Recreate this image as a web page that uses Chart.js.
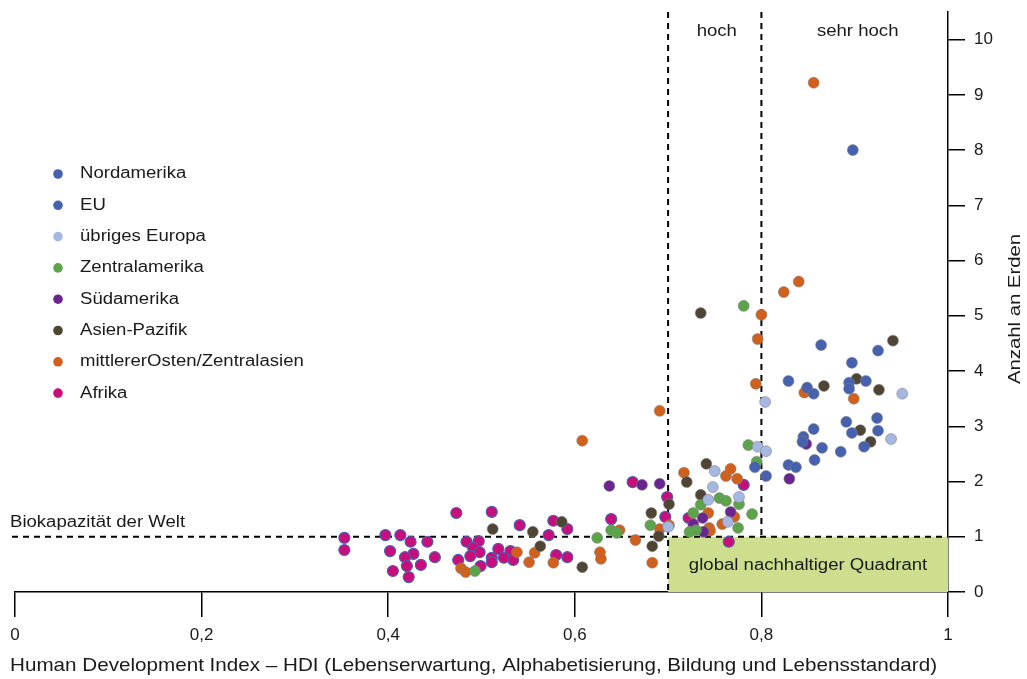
<!DOCTYPE html>
<html lang="de">
<head>
<meta charset="utf-8">
<title>HDI und Anzahl an Erden</title>
<script src="https://cdn.jsdelivr.net/npm/chart.js@4.4.1/dist/chart.umd.min.js"></script>
<style>
  html, body { margin: 0; padding: 0; background: #fff; }
  #wrap { width: 1027px; height: 679px; }
</style>
</head>
<body>
<div id="wrap"><canvas id="hdiChart" width="1027" height="679"></canvas></div>
<script>
// Regionen und Werte (HDI, Anzahl an Erden)
const regionen = ["Nordamerika", "EU", "übriges Europa", "Zentralamerika", "Südamerika", "Asien-Pazifik", "mittlererOsten/Zentralasien", "Afrika"];
const farben = ["#4561b0", "#4561b0", "#a6b8e1", "#5ca449", "#6b2590", "#4e4535", "#d0601c", "#c90e7c"];

const nordamerikaHdi = [0.898, 0.864];
const nordamerikaErden = [8.0, 4.47];

const euHdi = [0.925, 0.897, 0.829, 0.849, 0.856, 0.894, 0.894, 0.912, 0.856, 0.891, 0.924, 0.897, 0.925, 0.845, 0.844, 0.865, 0.885, 0.910, 0.857, 0.829, 0.837, 0.793, 0.805];
const euErden = [4.37, 4.15, 3.82, 3.70, 3.59, 3.79, 3.68, 3.82, 2.95, 3.08, 3.15, 2.88, 2.92, 2.81, 2.72, 2.61, 2.54, 2.63, 2.39, 2.30, 2.26, 2.26, 2.10];

const europaRestHdi = [0.750, 0.748, 0.743, 0.776, 0.764, 0.796, 0.805, 0.700, 0.804, 0.951, 0.939];
const europaRestErden = [2.19, 1.90, 1.67, 1.72, 1.27, 2.63, 2.55, 1.18, 3.44, 3.59, 2.77];

const zentralamerikaHdi = [0.493, 0.624, 0.639, 0.645, 0.681, 0.786, 0.795, 0.755, 0.762, 0.776, 0.735, 0.727, 0.730, 0.723, 0.775, 0.790, 0.781];
const zentralamerikaErden = [0.38, 0.98, 1.12, 1.07, 1.21, 2.66, 2.36, 1.70, 1.65, 1.59, 1.58, 1.43, 1.12, 1.09, 1.16, 1.41, 5.18];

const suedamerikaHdi = [0.637, 0.672, 0.691, 0.737, 0.727, 0.767, 0.738, 0.830, 0.848];
const suedamerikaErden = [1.92, 1.94, 1.96, 1.34, 1.23, 1.45, 1.09, 2.05, 2.68];

const asienHdi = [0.512, 0.555, 0.586, 0.563, 0.608, 0.682, 0.701, 0.690, 0.683, 0.741, 0.720, 0.735, 0.735, 0.867, 0.902, 0.926, 0.941, 0.906, 0.917];
const asienErden = [1.14, 1.09, 1.27, 0.83, 0.45, 1.43, 1.59, 1.01, 0.83, 2.32, 1.99, 1.76, 5.05, 3.73, 3.86, 3.66, 4.55, 2.93, 2.72];

const nahostHdi = [0.478, 0.483, 0.538, 0.557, 0.551, 0.577, 0.627, 0.628, 0.648, 0.665, 0.683, 0.691, 0.701, 0.717, 0.743, 0.744, 0.745, 0.758, 0.771, 0.762, 0.767, 0.774, 0.608, 0.691, 0.794, 0.796, 0.800, 0.824, 0.840, 0.846, 0.899, 0.856];
const nahostErden = [0.43, 0.36, 0.72, 0.71, 0.54, 0.53, 0.72, 0.60, 1.12, 0.94, 0.53, 1.14, 1.21, 2.16, 1.43, 1.16, 1.11, 1.23, 1.36, 2.10, 2.23, 2.05, 2.74, 3.28, 3.77, 4.58, 5.02, 5.43, 5.62, 3.61, 3.50, 9.22];

const afrikaHdi = [0.353, 0.353, 0.397, 0.413, 0.424, 0.442, 0.402, 0.427, 0.418, 0.450, 0.420, 0.435, 0.405, 0.422, 0.473, 0.484, 0.497, 0.491, 0.498, 0.488, 0.475, 0.499, 0.511, 0.518, 0.531, 0.511, 0.511, 0.524, 0.534, 0.541, 0.577, 0.592, 0.572, 0.580, 0.592, 0.639, 0.662, 0.699, 0.697, 0.722, 0.781, 0.765];
const afrikaErden = [0.98, 0.76, 1.03, 1.03, 0.91, 0.91, 0.74, 0.69, 0.63, 0.63, 0.47, 0.49, 0.38, 0.27, 1.43, 0.91, 0.92, 0.80, 0.72, 0.65, 0.58, 0.47, 1.45, 0.78, 0.74, 0.62, 0.54, 0.62, 0.58, 1.21, 1.29, 1.14, 1.03, 0.67, 0.63, 1.32, 1.99, 1.72, 1.36, 1.34, 1.94, 0.91];

const xTicks = [0, 0.2, 0.4, 0.6, 0.8, 1];
const yTicks = [0, 1, 2, 3, 4, 5, 6, 7, 8, 9, 10];

const hdiListen = [nordamerikaHdi, euHdi, europaRestHdi, zentralamerikaHdi, suedamerikaHdi, asienHdi, nahostHdi, afrikaHdi];
const erdenListen = [nordamerikaErden, euErden, europaRestErden, zentralamerikaErden, suedamerikaErden, asienErden, nahostErden, afrikaErden];

const schrift = "'Liberation Sans', Arial, sans-serif";
const dehnung = 1.16; // Schrift im Original etwas breiter
Chart.defaults.font.family = schrift;
Chart.defaults.font.size = 17;
Chart.defaults.color = "#1a1a1a";

const datasets = regionen.map((name, i) => ({
    label: name,
    data: hdiListen[i].map((h, k) => ({ x: h, y: erdenListen[i][k] })),
    backgroundColor: farben[i],
    borderColor: name === "Afrika" ? "#4d5db0" : "rgba(130,130,130,0.7)",
    borderWidth: name === "Afrika" ? 1.2 : 0.8,
    pointRadius: 5.5,
    pointHoverRadius: 5.5
}));

// Text mit horizontaler Dehnung; breite > 0 => auf diese Breite strecken
function text(ctx, t, x, y, size, align, breite) {
    ctx.save();
    ctx.font = size + "px " + schrift;
    ctx.fillStyle = "#1a1a1a";
    ctx.textBaseline = "middle";
    ctx.textAlign = align;
    const f = breite ? breite / ctx.measureText(t).width : dehnung;
    ctx.translate(x, y);
    ctx.scale(f, 1);
    ctx.fillText(t, 0, 0);
    ctx.restore();
}

const markierungen = {
    id: "markierungen",
    beforeDatasetsDraw(chart) {
        const { ctx, scales: { x, y }, chartArea } = chart;
        const x0 = x.getPixelForValue(0), x07 = x.getPixelForValue(0.7), x08 = x.getPixelForValue(0.8), x1 = x.getPixelForValue(1);
        const y0 = y.getPixelForValue(0), y1 = y.getPixelForValue(1);
        ctx.save();
        ctx.fillStyle = "#cddf8e";
        ctx.fillRect(x07, y1, x1 - x07, y0 - y1);

        ctx.strokeStyle = "#000";
        ctx.lineWidth = 2;
        ctx.setLineDash([6, 5]);
        ctx.beginPath();
        ctx.moveTo(x0 - 3, y1); ctx.lineTo(x1, y1);
        ctx.moveTo(x07, chartArea.top); ctx.lineTo(x07, y0);
        ctx.moveTo(x08, chartArea.top); ctx.lineTo(x08, y1);
        ctx.stroke();
        ctx.restore();

        text(ctx, "hoch", (x07 + x08) / 2 + 2, 32, 16, "center");
        text(ctx, "sehr hoch", (x08 + x1) / 2 + 3, 32, 16, "center");
        text(ctx, "global nachhaltiger Quadrant", x.getPixelForValue(0.85), y.getPixelForValue(0.5) + 1, 16, "center");
        text(ctx, "Biokapazität der Welt", 10, 523, 16, "left");
    },
    afterDraw(chart) {
        const { ctx } = chart;
        text(ctx, "Human Development Index – HDI (Lebenserwartung, Alphabetisierung, Bildung und Lebensstandard)", 10, 666, 19, "left", 927);

        ctx.save();
        ctx.translate(1015, 309);
        ctx.rotate(-Math.PI / 2);
        text(ctx, "Anzahl an Erden", 0, 0, 17, "center", 150);
        ctx.restore();

        // Legende
        regionen.forEach((name, i) => {
            const ly = 174 + i * 31.3;
            ctx.save();
            ctx.beginPath();
            ctx.arc(58, ly, 4.8, 0, Math.PI * 2);
            ctx.fillStyle = farben[i];
            ctx.fill();
            ctx.restore();
            text(ctx, name, 80, ly, 16, "left");
        });
    }
};

new Chart(document.getElementById("hdiChart"), {
    type: "scatter",
    data: { datasets: datasets },
    options: {
        responsive: false,
        animation: false,
        layout: { padding: { left: 15, top: 12, right: 0, bottom: 0 } },
        plugins: {
            legend: { display: false },
            tooltip: { enabled: false }
        },
        scales: {
            x: {
                type: "linear",
                min: 0,
                max: 1,
                afterBuildTicks: scale => { scale.ticks = xTicks.map(v => ({ value: v })); },
                afterFit: scale => { scale.height = 87; scale.paddingLeft = 0; scale.paddingRight = 0; },
                ticks: {
                    padding: 8,
                    maxRotation: 0,
                    callback: v => String(Number(v.toFixed(1))).replace(".", ",")
                },
                grid: { drawOnChartArea: false, drawTicks: true, tickLength: 25, color: "#000", lineWidth: 1.5 },
                border: { display: true, color: "#000", width: 1.5 }
            },
            y: {
                type: "linear",
                position: "right",
                min: 0,
                max: 10.5,
                afterBuildTicks: scale => { scale.ticks = yTicks.map(v => ({ value: v })); },
                afterFit: scale => { scale.width = 79; scale.paddingTop = 0; scale.paddingBottom = 0; },
                ticks: { padding: 9 },
                grid: { drawOnChartArea: false, drawTicks: true, tickLength: 17, color: "#000", lineWidth: 1.5 },
                border: { display: true, color: "#000", width: 1.5 }
            }
        }
    },
    plugins: [markierungen]
});
</script>
</body>
</html>
